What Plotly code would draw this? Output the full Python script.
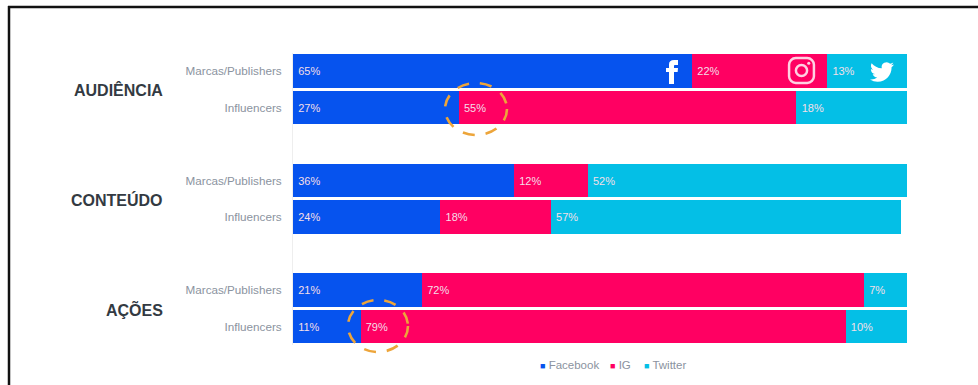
import base64
import plotly.graph_objects as go

W, H = 978, 385

rows = [0, 1, 3, 4, 6, 7]
row_labels = ["Marcas/Publishers", "Influencers"] * 3
groups = ["AUDIÊNCIA", "CONTEÚDO", "AÇÕES"]
group_rows = [0.5, 3.5, 6.5]
facebook = [65, 27, 36, 24, 21, 11]
ig = [22, 55, 12, 18, 72, 79]
twitter = [13, 18, 52, 57, 7, 10]

BLUE, PINK, CYAN = "#0653ee", "#ff0062", "#04bfe6"
GREY = "#8b93a0"
ORANGE = "#eda53a"


def px_x(p):
    return p / W


def px_y(p):
    return 1 - p / H


def svg_uri(svg):
    return "data:image/svg+xml;base64," + base64.b64encode(svg.encode()).decode()


BIRD = (
    "M23.953 4.57a10 10 0 01-2.825.775 4.958 4.958 0 002.163-2.723c-.951.555-2.005.959-3.127 1.184"
    "a4.92 4.92 0 00-8.384 4.482C7.69 8.095 4.067 6.13 1.64 3.162a4.822 4.822 0 00-.666 2.475"
    "c0 1.71.87 3.213 2.188 4.096a4.904 4.904 0 01-2.228-.616v.06a4.923 4.923 0 003.946 4.827"
    " 4.996 4.996 0 01-2.212.085 4.936 4.936 0 004.604 3.417 9.867 9.867 0 01-6.102 2.105"
    "c-.39 0-.779-.023-1.17-.067a13.995 13.995 0 007.557 2.209c9.053 0 13.998-7.496 13.998-13.985"
    " 0-.21 0-.42-.015-.63A9.935 9.935 0 0024 4.59z"
)
F_GLYPH = "M9 8H6v4h3v12h5V12h3.642L18 8h-4V6.333C14 5.378 14.192 5 15.115 5H18V0h-3.808C10.596 0 9 1.583 9 4.615V8z"
bird_svg = f'<svg xmlns="http://www.w3.org/2000/svg" viewBox="0 0 24 24"><path fill="#ffffff" d="{BIRD}"/></svg>'
f_svg = f'<svg xmlns="http://www.w3.org/2000/svg" viewBox="0 0 24 24"><path fill="#ffffff" d="{F_GLYPH}"/></svg>'
camera_svg = (
    '<svg xmlns="http://www.w3.org/2000/svg" viewBox="0 0 28 28">'
    '<rect x="2" y="2" width="24" height="24" rx="6.5" fill="none" stroke="#ffd0e2" stroke-width="2.4"/>'
    '<circle cx="14" cy="14" r="5.4" fill="none" stroke="#ffd0e2" stroke-width="2.4"/>'
    '<circle cx="21" cy="7" r="1.5" fill="#ffd0e2"/></svg>'
)

fig = go.Figure()
for name, values, colour in [("Facebook", facebook, BLUE), ("IG", ig, PINK), ("Twitter", twitter, CYAN)]:
    fig.add_trace(go.Bar(
        name=name, y=rows, x=values, orientation="h", marker=dict(color=colour, line_width=0),
        text=[f"\u2009{v}%" for v in values], textposition="inside", insidetextanchor="start",
        textangle=0, constraintext="none",
        textfont=dict(family="Liberation Sans", size=11, color="#f4dfe8"),
        hoverinfo="skip",
    ))

annotations = [
    dict(xref="paper", yref="y", x=px_x(165), y=r, yshift=-1, text=f"<b>{g}</b>", showarrow=False,
         xanchor="right", yanchor="middle",
         font=dict(family="Liberation Sans", size=16, color="#333a42"))
    for g, r in zip(groups, group_rows)
]

# Hand-built legend: small square swatches with their names beside them
legend_items = [("Facebook", BLUE, 538), ("IG", PINK, 608), ("Twitter", CYAN, 642)]
for name, colour, left in legend_items:
    annotations.append(dict(
        xref="paper", yref="paper", x=px_x(left), y=px_y(365), xanchor="left", yanchor="middle", showarrow=False,
        text=f'<span style="color:{colour};font-size:9px">■</span> {name}',
        font=dict(family="Liberation Sans", size=11.5, color=GREY),
    ))

highlights = [(445, 507, 83, 135), (348, 408, 300, 352)]
frame = [(9, 9, 6, 400), (8, 990, 7, 7)]
shapes = [
    dict(type="line", xref="paper", yref="paper", x0=px_x(a), x1=px_x(b), y0=px_y(c), y1=px_y(d),
         line=dict(color="#111111", width=2.5), layer="below")
    for a, b, c, d in frame
]
shapes += [
    dict(type="circle", xref="paper", yref="paper", x0=px_x(a), x1=px_x(b), y0=px_y(c), y1=px_y(d),
         line=dict(color=ORANGE, width=2.6, dash="12px,11px"), layer="above")
    for a, b, c, d in highlights
]

images = [
    dict(source=svg_uri(f_svg), xref="paper", yref="paper", x=px_x(660), y=px_y(60), sizex=24 / W, sizey=24 / H,
         xanchor="left", yanchor="top", layer="above"),
    dict(source=svg_uri(camera_svg), xref="paper", yref="paper", x=px_x(787), y=px_y(56), sizex=29 / W, sizey=29 / H,
         xanchor="left", yanchor="top", layer="above"),
    dict(source=svg_uri(bird_svg), xref="paper", yref="paper", x=px_x(870), y=px_y(60), sizex=24 / W, sizey=24 / H,
         xanchor="left", yanchor="top", layer="above"),
]

fig.update_layout(
    width=W, height=H, margin=dict(l=0, r=0, t=0, b=0), autosize=False,
    barmode="stack", bargap=0.07, showlegend=False,
    paper_bgcolor="#ffffff", plot_bgcolor="#ffffff",
    xaxis=dict(domain=[px_x(293), px_x(907)], range=[0, 100], visible=False, fixedrange=True),
    yaxis=dict(domain=[px_y(344.75), px_y(52.75)], range=[7.5, -0.5], tickvals=rows, ticktext=row_labels,
               showgrid=False, zeroline=False, ticks="", showline=True, linecolor="#eeeeee", linewidth=1,
               ticklabelstandoff=8, fixedrange=True,
               tickfont=dict(family="Liberation Sans", size=11.7, color=GREY)),
    annotations=annotations, shapes=shapes, images=images,
)

fig.write_html("out.html", config={"displayModeBar": False})
